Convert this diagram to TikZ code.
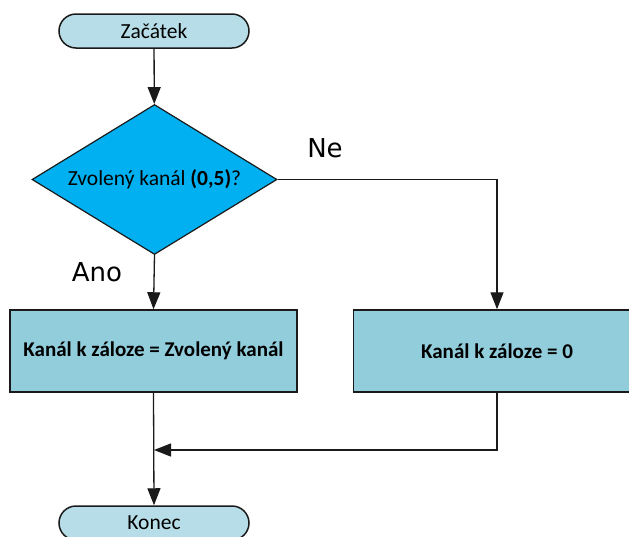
\documentclass[tikz,border=0pt]{standalone}
\usepackage{fontspec}
\setmainfont{Carlito}
\newfontfamily\labelfont{DejaVu Sans}
\usepackage{tikz}
\usetikzlibrary{positioning,shapes.geometric,arrows.meta}
\definecolor{TermFill}{HTML}{B7DEE8}
\definecolor{DecFill}{HTML}{00B0F0}
\definecolor{BoxFill}{HTML}{92CDDC}
\definecolor{LineDark}{HTML}{1A1A1A}
\tikzset{
  terminal/.style={draw=LineDark, fill=TermFill, line width=1.5pt, rounded corners=17pt,
    minimum width=190pt, minimum height=34pt, inner sep=0pt, font=\fontsize{21.5}{24}\selectfont},
  decision/.style={diamond, draw=LineDark, fill=DecFill, line width=1.2pt, shape aspect=1.633,
    minimum width=245pt, minimum height=150pt, inner sep=0pt, font=\fontsize{21.5}{24}\selectfont},
  process/.style={draw=LineDark, fill=BoxFill, line width=1.5pt, minimum width=287pt,
    minimum height=82pt, inner sep=0pt, font=\fontsize{21}{24}\selectfont\bfseries},
  branch/.style={font=\labelfont\fontsize{26}{30}\selectfont},
  arr/.style={-{Triangle[width=13pt,length=17pt]}, line width=1.3pt, draw=LineDark},
  link/.style={line width=1.3pt, draw=LineDark}
}

\begin{document}
\begin{tikzpicture}[x=1pt, y=-1pt]
  \useasboundingbox (0,0) rectangle (629,536);

  % Start / end
  \node[terminal] (start) at (154,31) {Začátek};
  \node[terminal] (stop) at (154,523) {Konec};

  % Decision
  \node[decision] (dec) at (154.5,179.5) {Zvolený kanál \textbf{(0,5)}?};

  % Assignment boxes
  \node[process] (copy) at (153.5,351) {Kanál k záloze = Zvolený kanál};
  \node[process] (zero) at (497,351) {Kanál k záloze = 0};

  % Branch labels
  \node[branch] (ne) at (325,148) {Ne};
  \node[branch] (ano) at (97,272) {Ano};

  % Connectors
  \coordinate (merge) at (154,450);
  \draw[arr] (start) -- (dec);
  \draw[arr] (dec.south) -- (copy.north);
  \draw[arr] (dec.east) -| (zero.north);
  \draw[arr] (copy.south) -- (stop.north);
  \draw[arr] (zero.south) |- (merge);
\end{tikzpicture}
\end{document}
